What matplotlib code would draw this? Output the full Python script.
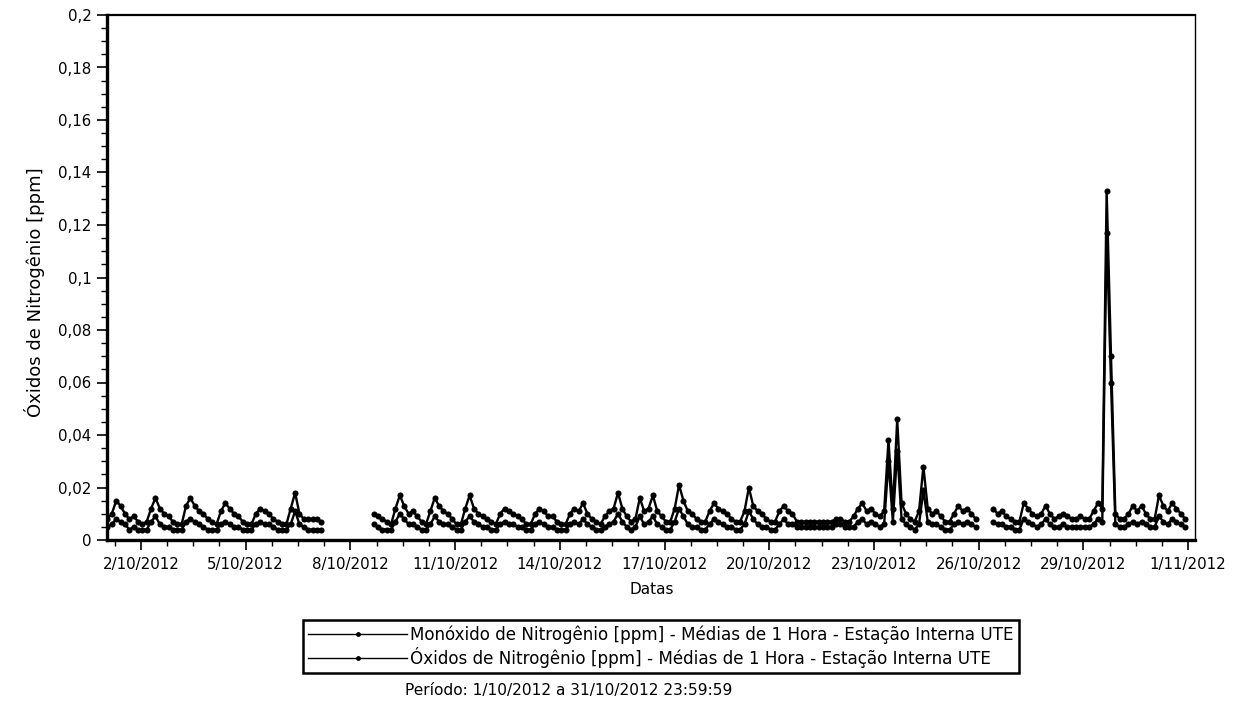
import numpy as np
import matplotlib
matplotlib.use("Agg")
import matplotlib.pyplot as plt
import matplotlib.dates as mdates
from matplotlib.ticker import FuncFormatter, MultipleLocator
from datetime import datetime, timedelta

nan = np.nan

# Hourly averages sampled every 3 h (01, 04, 07, 10, 13, 16, 19, 22 h), one row per day
slot_hours = [1, 4, 7, 10, 13, 16, 19, 22]
first_day = datetime(2012, 10, 1)
n_days = 31

nox_ppm = [
    0.008, 0.010, 0.015, 0.013, 0.010, 0.008, 0.009, 0.007,  # 01/10
    0.006, 0.007, 0.012, 0.016, 0.012, 0.010, 0.009, 0.007,  # 02/10
    0.006, 0.006, 0.013, 0.016, 0.013, 0.011, 0.010, 0.008,  # 03/10
    0.007, 0.006, 0.011, 0.014, 0.012, 0.010, 0.009, 0.007,  # 04/10
    0.006, 0.006, 0.010, 0.012, 0.011, 0.010, 0.008, 0.007,  # 05/10
    0.006, 0.006, 0.012, 0.018, 0.010, 0.008, 0.008, 0.008,  # 06/10
    0.008, 0.007, nan, nan, nan, nan, nan, nan,              # 07/10
    nan, nan, nan, nan, nan, 0.010, 0.009, 0.008,            # 08/10
    0.007, 0.006, 0.012, 0.017, 0.013, 0.010, 0.011, 0.009,  # 09/10
    0.007, 0.006, 0.011, 0.016, 0.013, 0.011, 0.010, 0.008,  # 10/10
    0.006, 0.006, 0.012, 0.017, 0.012, 0.010, 0.009, 0.008,  # 11/10
    0.007, 0.006, 0.010, 0.012, 0.011, 0.010, 0.009, 0.008,  # 12/10
    0.006, 0.006, 0.010, 0.012, 0.011, 0.009, 0.009, 0.007,  # 13/10
    0.006, 0.006, 0.010, 0.012, 0.011, 0.014, 0.010, 0.008,  # 14/10
    0.007, 0.006, 0.009, 0.011, 0.012, 0.018, 0.012, 0.009,  # 15/10
    0.007, 0.008, 0.016, 0.011, 0.012, 0.017, 0.011, 0.009,  # 16/10
    0.007, 0.007, 0.012, 0.021, 0.015, 0.011, 0.010, 0.008,  # 17/10
    0.007, 0.007, 0.011, 0.014, 0.012, 0.011, 0.010, 0.008,  # 18/10
    0.007, 0.007, 0.011, 0.020, 0.013, 0.011, 0.010, 0.008,  # 19/10
    0.007, 0.007, 0.011, 0.013, 0.011, 0.010, 0.007, 0.007,  # 20/10
    0.007, 0.007, 0.007, 0.007, 0.007, 0.007, 0.007, 0.008,  # 21/10
    0.008, 0.007, 0.007, 0.009, 0.012, 0.014, 0.011, 0.012,  # 22/10
    0.010, 0.009, 0.011, 0.038, 0.012, 0.046, 0.014, 0.010,  # 23/10
    0.008, 0.007, 0.011, 0.028, 0.012, 0.010, 0.011, 0.009,  # 24/10
    0.007, 0.007, 0.010, 0.013, 0.011, 0.012, 0.010, 0.008,  # 25/10
    nan, nan, nan, 0.012, 0.010, 0.011, 0.009, 0.008,        # 26/10
    0.007, 0.007, 0.014, 0.012, 0.010, 0.009, 0.010, 0.013,  # 27/10
    0.010, 0.008, 0.009, 0.010, 0.009, 0.008, 0.008, 0.009,  # 28/10
    0.008, 0.008, 0.011, 0.014, 0.012, 0.133, 0.070, 0.010,  # 29/10
    0.008, 0.008, 0.010, 0.013, 0.011, 0.013, 0.010, 0.008,  # 30/10
    0.008, 0.017, 0.013, 0.011, 0.014, 0.012, 0.010, 0.008,  # 31/10
]

no_ppm = [
    0.005, 0.006, 0.008, 0.007, 0.006, 0.004, 0.005, 0.004,  # 01/10
    0.004, 0.004, 0.007, 0.009, 0.006, 0.005, 0.005, 0.004,  # 02/10
    0.004, 0.004, 0.007, 0.008, 0.007, 0.006, 0.005, 0.004,  # 03/10
    0.004, 0.004, 0.006, 0.007, 0.006, 0.005, 0.005, 0.004,  # 04/10
    0.004, 0.004, 0.006, 0.007, 0.006, 0.006, 0.005, 0.004,  # 05/10
    0.004, 0.004, 0.006, 0.011, 0.006, 0.005, 0.004, 0.004,  # 06/10
    0.004, 0.004, nan, nan, nan, nan, nan, nan,              # 07/10
    nan, nan, nan, nan, nan, 0.006, 0.005, 0.004,            # 08/10
    0.004, 0.004, 0.007, 0.010, 0.008, 0.006, 0.006, 0.005,  # 09/10
    0.004, 0.004, 0.006, 0.009, 0.007, 0.006, 0.006, 0.005,  # 10/10
    0.004, 0.004, 0.007, 0.009, 0.007, 0.006, 0.005, 0.005,  # 11/10
    0.004, 0.004, 0.006, 0.007, 0.006, 0.006, 0.005, 0.005,  # 12/10
    0.004, 0.004, 0.006, 0.007, 0.006, 0.005, 0.005, 0.004,  # 13/10
    0.004, 0.004, 0.006, 0.007, 0.006, 0.008, 0.006, 0.005,  # 14/10
    0.004, 0.004, 0.005, 0.006, 0.007, 0.010, 0.007, 0.005,  # 15/10
    0.004, 0.005, 0.009, 0.006, 0.007, 0.009, 0.006, 0.005,  # 16/10
    0.004, 0.004, 0.007, 0.012, 0.009, 0.006, 0.005, 0.005,  # 17/10
    0.004, 0.004, 0.006, 0.008, 0.007, 0.006, 0.005, 0.005,  # 18/10
    0.004, 0.004, 0.006, 0.011, 0.008, 0.006, 0.005, 0.005,  # 19/10
    0.004, 0.004, 0.006, 0.008, 0.006, 0.006, 0.005, 0.005,  # 20/10
    0.005, 0.005, 0.005, 0.005, 0.005, 0.005, 0.005, 0.006,  # 21/10
    0.006, 0.005, 0.005, 0.005, 0.007, 0.008, 0.006, 0.007,  # 22/10
    0.006, 0.005, 0.006, 0.030, 0.007, 0.034, 0.008, 0.006,  # 23/10
    0.005, 0.004, 0.006, 0.019, 0.007, 0.006, 0.006, 0.005,  # 24/10
    0.004, 0.004, 0.006, 0.007, 0.006, 0.007, 0.006, 0.005,  # 25/10
    nan, nan, nan, 0.007, 0.006, 0.006, 0.005, 0.005,        # 26/10
    0.004, 0.004, 0.008, 0.007, 0.006, 0.005, 0.006, 0.008,  # 27/10
    0.006, 0.005, 0.005, 0.006, 0.005, 0.005, 0.005, 0.005,  # 28/10
    0.005, 0.005, 0.006, 0.008, 0.007, 0.117, 0.060, 0.006,  # 29/10
    0.005, 0.005, 0.006, 0.007, 0.006, 0.007, 0.006, 0.005,  # 30/10
    0.005, 0.009, 0.007, 0.006, 0.008, 0.007, 0.006, 0.005,  # 31/10
]

series_labels = [
    "Monóxido de Nitrogênio [ppm] - Médias de 1 Hora - Estação Interna UTE",
    "Óxidos de Nitrogênio [ppm] - Médias de 1 Hora - Estação Interna UTE",
]
y_label = "Óxidos de Nitrogênio [ppm]"
x_label = "Datas"
period_text = "Período: 1/10/2012 a 31/10/2012 23:59:59"

times = [first_day + timedelta(days=d, hours=h) for d in range(n_days) for h in slot_hours]

plt.rcParams["font.family"] = ["DejaVu Sans"]
plt.rcParams["font.size"] = 10.5

W, H = 1238, 709
fig = plt.figure(figsize=(W / 100, H / 100), dpi=100)
ax = fig.add_axes([107 / W, 1 - 540 / H, (1195 - 107) / W, (540 - 15) / H])

for vals, lab in zip([no_ppm, nox_ppm], series_labels):
    ax.plot(times, vals, color="black", linewidth=1.7, marker="o",
            markersize=4.4, markeredgewidth=0, label=lab)

ax.set_ylim(0, 0.2)
ax.set_xlim(datetime(2012, 10, 1, 0, 40), datetime(2012, 11, 1, 4, 45))

ax.yaxis.set_major_locator(MultipleLocator(0.02))
ax.yaxis.set_minor_locator(MultipleLocator(0.005))
ax.yaxis.set_major_formatter(FuncFormatter(lambda v, p: ("%g" % round(v, 4)).replace(".", ",")))

major_days = [datetime(2012, 10, 2) + timedelta(days=3 * k) for k in range(11)]
minor_marks = [datetime(2012, 10, 1, 6) + timedelta(hours=18 * k) for k in range(42)]
ax.set_xticks(major_days)
ax.set_xticks(minor_marks, minor=True)
ax.xaxis.set_major_formatter(FuncFormatter(
    lambda v, p: "{0.day}/{0.month}/{0.year}".format(mdates.num2date(v))))

ax.tick_params(axis="both", which="major", direction="out", length=7, width=1.2,
               labelsize=10.8, color="black")
ax.tick_params(axis="both", which="minor", direction="out", length=4, width=1.0)
ax.tick_params(axis="y", pad=4)
ax.tick_params(axis="x", pad=5)

ax.spines["left"].set_linewidth(2.4)
ax.spines["bottom"].set_linewidth(2.4)
ax.spines["top"].set_linewidth(1.6)
ax.spines["right"].set_linewidth(1.0)

fig.text(652 / W, 1 - 590 / H, x_label, ha="center", va="center", fontsize=11)
fig.text(35 / W, 1 - 292 / H, y_label, ha="center", va="center",
         rotation=90, fontsize=13)

leg = fig.legend(loc="upper left", bbox_to_anchor=(303 / W, 1 - 620 / H),
                 fontsize=12.1, handlelength=5.9, handletextpad=0.18,
                 borderpad=0.3, labelspacing=0.2, borderaxespad=0,
                 fancybox=False, frameon=True, framealpha=1, numpoints=1)
leg.get_frame().set_edgecolor("black")
leg.get_frame().set_linewidth(1.8)
for h in leg.legend_handles:
    h.set_linewidth(1.0)
    h.set_markersize(3.5)

fig.text(405 / W, 1 - 690 / H, period_text, ha="left", va="center", fontsize=11.1)

fig.savefig("out.png", dpi=100, facecolor="white")
